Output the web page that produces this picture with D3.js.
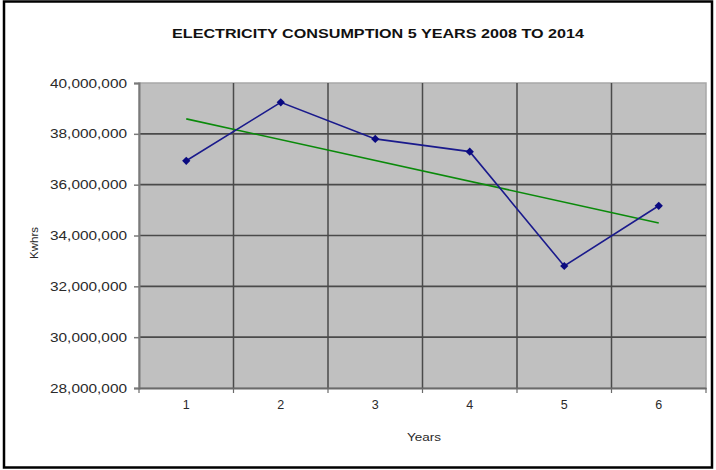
<!DOCTYPE html>
<html>
<head>
<meta charset="utf-8">
<script src="https://cdn.jsdelivr.net/npm/d3@7"></script>
<style>
  html, body { margin: 0; padding: 0; background: #fff; }
  svg { display: block; }
  text { font-family: "Liberation Sans", Arial, sans-serif; }
</style>
</head>
<body>
<svg id="chart" width="716" height="470"></svg>
<script>
// Annual electricity consumption (kWh) for years 1..6
const years = [1, 2, 3, 4, 5, 6];
const consumption = [36940000, 39240000, 37800000, 37300000, 32800000, 35170000];
const yTicks = [28000000, 30000000, 32000000, 34000000, 36000000, 38000000, 40000000];
const yTickLabels = ["28,000,000", "30,000,000", "32,000,000", "34,000,000", "36,000,000", "38,000,000", "40,000,000"];
const titleText = "ELECTRICITY CONSUMPTION 5 YEARS 2008 TO 2014";
const xTitle = "Years";
const yTitle = "Kwhrs";

const svg = d3.select("#chart");
const plot = { left: 139, top: 83, right: 706, bottom: 388 };

// outer frame
svg.append("rect")
  .attr("x", 4).attr("y", 1.5).attr("width", 708).attr("height", 466)
  .attr("fill", "#fff").attr("stroke", "#000").attr("stroke-width", 2.5);

// scales
const x = d3.scaleBand().domain(years).range([plot.left, plot.right]).padding(0);
const y = d3.scaleLinear().domain([28000000, 40000000]).range([plot.bottom, plot.top]);

// plot area
svg.append("rect")
  .attr("x", plot.left).attr("y", plot.top)
  .attr("width", plot.right - plot.left).attr("height", plot.bottom - plot.top)
  .attr("fill", "#c0c0c0").attr("stroke", "#a8a8a8").attr("stroke-width", 1.5);

// horizontal gridlines
svg.append("g").selectAll("line")
  .data(yTicks.slice(1, -1))
  .join("line")
  .attr("x1", plot.left).attr("x2", plot.right)
  .attr("y1", d => y(d)).attr("y2", d => y(d))
  .attr("stroke", "#4a4a4a").attr("stroke-width", 1.7);

// vertical gridlines at category boundaries
svg.append("g").selectAll("line")
  .data(years.slice(1))
  .join("line")
  .attr("x1", d => x(d)).attr("x2", d => x(d))
  .attr("y1", plot.top).attr("y2", plot.bottom)
  .attr("stroke", "#4a4a4a").attr("stroke-width", 1.5);

// y axis
const yAxis = d3.axisLeft(y)
  .tickValues(yTicks)
  .tickFormat((d, i) => yTickLabels[i])
  .tickSize(5).tickPadding(7);
const gy = svg.append("g").attr("transform", `translate(${plot.left},0)`).call(yAxis);
gy.select(".domain").attr("stroke", "#7a7a7a").attr("stroke-width", 2);
gy.selectAll(".tick line").attr("stroke", "#7a7a7a").attr("stroke-width", 1.5);
gy.selectAll(".tick text")
  .attr("font-size", 12.5).attr("fill", "#2a2a2a")
  .attr("textLength", 77).attr("lengthAdjust", "spacingAndGlyphs")
  .attr("font-family", "'Liberation Sans', Arial, sans-serif");

// x axis with ticks on category boundaries
const xAxis = d3.axisBottom(x).tickSize(0).tickPadding(12);
const gx = svg.append("g").attr("transform", `translate(0,${plot.bottom})`).call(xAxis);
gx.select(".domain").attr("stroke", "#6a6a6a").attr("stroke-width", 2.2);
gx.selectAll(".tick text")
  .attr("font-size", 12.5).attr("fill", "#2a2a2a")
  .attr("font-family", "'Liberation Sans', Arial, sans-serif");
gx.append("g").selectAll("line")
  .data(years.concat([years.length + 1]))
  .join("line")
  .attr("x1", d => d <= years.length ? x(d) : plot.right)
  .attr("x2", d => d <= years.length ? x(d) : plot.right)
  .attr("y1", 0).attr("y2", 5)
  .attr("stroke", "#6a6a6a").attr("stroke-width", 1.2);

const cx = d => x(d) + x.bandwidth() / 2;

// linear trendline (least squares fit of the series)
const mx = d3.mean(years), my = d3.mean(consumption);
const sxy = d3.sum(years, (d, i) => (d - mx) * (consumption[i] - my));
const sxx = d3.sum(years, d => (d - mx) * (d - mx));
const slope = sxy / sxx, intercept = my - slope * mx;
const trend = [years[0], years[years.length - 1]].map(v => [v, intercept + slope * v]);
svg.append("path")
  .datum(trend)
  .attr("d", d3.line().x(d => cx(d[0])).y(d => y(d[1])))
  .attr("fill", "none").attr("stroke", "#0a8a0a").attr("stroke-width", 1.6);

// consumption series
const series = years.map((v, i) => [v, consumption[i]]);
svg.append("path")
  .datum(series)
  .attr("d", d3.line().x(d => cx(d[0])).y(d => y(d[1])))
  .attr("fill", "none").attr("stroke", "#1a1a8c").attr("stroke-width", 1.6);

// diamond markers: squares turned 45 degrees
svg.append("g").selectAll("path")
  .data(series)
  .join("path")
  .attr("transform", d => `translate(${cx(d[0])},${y(d[1])}) rotate(45)`)
  .attr("d", d3.symbol(d3.symbolSquare, 34)())
  .attr("fill", "#0a0a80");

// titles
svg.append("text")
  .attr("x", 378).attr("y", 38)
  .attr("text-anchor", "middle")
  .attr("font-size", 13).attr("font-weight", "bold").attr("fill", "#111")
  .attr("textLength", 412).attr("lengthAdjust", "spacingAndGlyphs")
  .text(titleText);

svg.append("text")
  .attr("x", 424).attr("y", 441)
  .attr("text-anchor", "middle")
  .attr("font-size", 11).attr("fill", "#2a2a2a")
  .attr("textLength", 34).attr("lengthAdjust", "spacingAndGlyphs")
  .text(xTitle);

svg.append("text")
  .attr("transform", "translate(38,243) rotate(-90)")
  .attr("text-anchor", "middle")
  .attr("font-size", 11).attr("fill", "#2a2a2a")
  .attr("textLength", 32).attr("lengthAdjust", "spacingAndGlyphs")
  .text(yTitle);
</script>
</body>
</html>
